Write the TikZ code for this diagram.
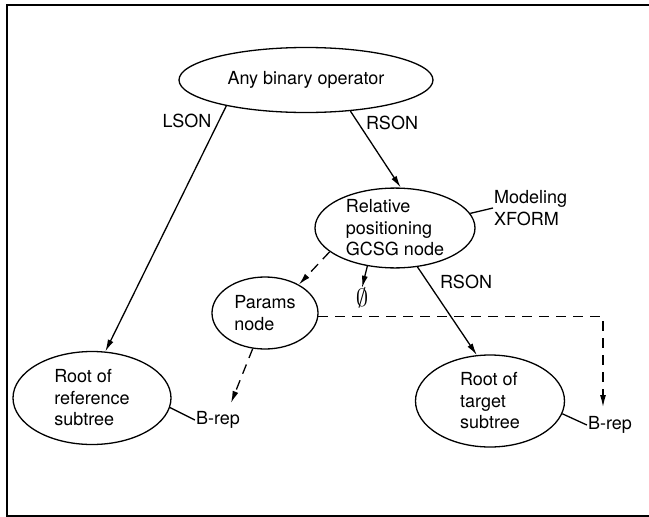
\documentclass[tikz,border=0pt]{standalone}
\usepackage{fontspec}
\setmainfont{TeX Gyre Heros}
\usetikzlibrary{shapes.geometric,arrows.meta}
\begin{document}
\begin{tikzpicture}[x=1pt,y=1pt,
  ell/.style={ellipse, draw, line width=1.3pt, inner sep=0pt, align=left, font=\fontsize{18}{21.5}\selectfont},
  lbl/.style={inner sep=1pt, align=left, font=\fontsize{18}{21.5}\selectfont},
  arr/.style={-{Latex[length=12pt,width=6pt]}, line width=1.3pt},
  dsh/.style={arr, dash pattern=on 10pt off 7pt},
  ln/.style={line width=1.3pt}]
\useasboundingbox (0,0) rectangle (649,-517);
\draw[line width=1.4pt] (649,-5) -- (7,-5) -- (7,-516) -- (649,-516);

\node[ell, minimum width=254pt, minimum height=65pt] (op) at (306,-80) {Any binary operator};
\node[ell, minimum width=160pt, minimum height=79pt] (rel) at (395,-228) {Relative\\positioning\\GCSG node};
\node[ell, minimum width=106pt, minimum height=72pt] (par) at (265,-313) {Params\\node};
\node[ell, minimum width=158pt, minimum height=93pt] (ref) at (92,-398) {Root of\\reference\\subtree};
\node[ell, minimum width=149pt, minimum height=92pt] (tgt) at (490,-401) {Root of\\target\\subtree};

\node[lbl] (mx) [anchor=west] at (493,-208) {Modeling\\XFORM};
\node[inner sep=0pt, font=\fontsize{25}{25}\selectfont] (phi) at (362,-298) {$\emptyset$};
\node[lbl] (br1) at (218,-420) {B-rep};
\node[lbl] (br2) at (610,-425) {B-rep};
\node[lbl] (lson) at (187,-121) {LSON};
\node[lbl] (rson1) at (392,-123) {RSON};
\node[lbl] (rson2) at (466,-282) {RSON};
\coordinate (tp) at (603,-407);
\coordinate (pd) at (231,-403);

\draw[arr] (op.198) -- (ref.74);
\draw[arr] (op.325) -- (rel.82);
\draw[ln] (rel.11) -- (mx.west);
\draw[dsh] (rel.200) -- (par.40);
\draw[arr] (rel.234) -- (phi.north);
\draw[arr] (rel.300) -- (tgt.106);
\draw[dsh] (par.356) -| (tp);
\draw[dsh] (par.251) -- (pd);
\draw[ln] (ref.-7) -- (br1.west);
\draw[ln] (tgt.-10) -- (br2.west);
\end{tikzpicture}
\end{document}
